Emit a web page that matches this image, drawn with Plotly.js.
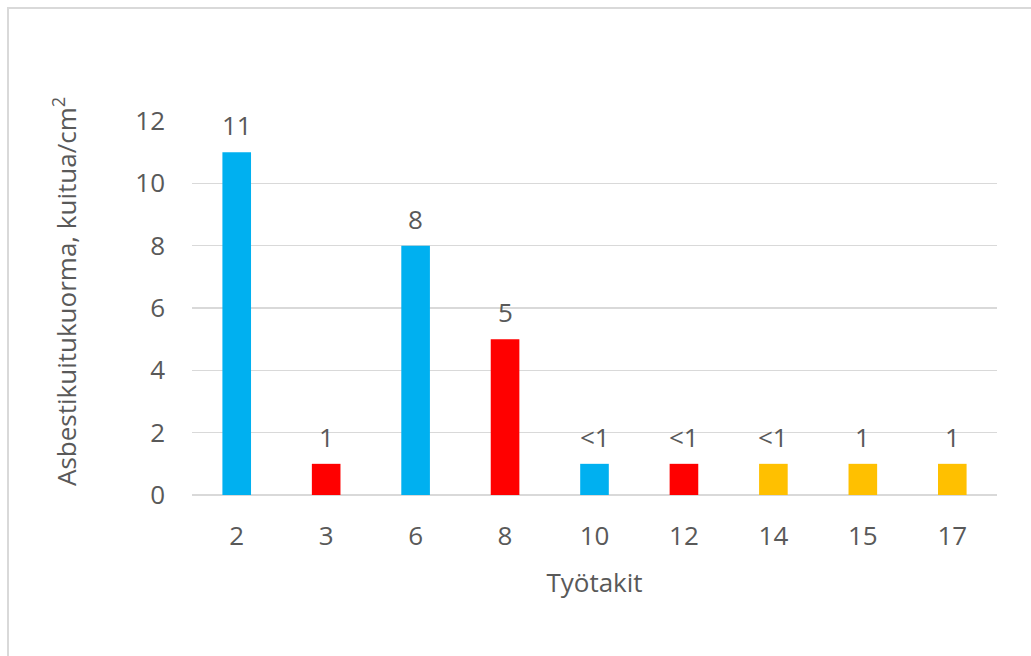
<!DOCTYPE html>
<html>
<head>
<meta charset="utf-8">
<script src="https://cdn.plot.ly/plotly-3.0.1.min.js"></script>
<style>
  html, body { margin: 0; padding: 0; background: #fff; }
  #chart { width: 1031px; height: 656px; }
</style>
</head>
<body>
<div id="chart"></div>
<script>
const categories = ["2", "3", "6", "8", "10", "12", "14", "15", "17"];
const values = [11, 1, 8, 5, 1, 1, 1, 1, 1];
const labels = ["11", "1", "8", "5", "<1", "<1", "<1", "1", "1"];
const barColors = ["#00B0F0", "#FF0000", "#00B0F0", "#FF0000", "#00B0F0", "#FF0000", "#FFC000", "#FFC000", "#FFC000"];
const yTicks = [0, 2, 4, 6, 8, 10, 12];
const xTitle = "Työtakit";
const yTitle = "Asbestikuitukuorma, kuitua/cm<sup>2</sup>";

const FONT = "Open Sans, Noto Sans, sans-serif";
const TXT = "#595959";
const FS = 26;

const trace = {
  type: "bar",
  x: categories,
  y: values,
  marker: { color: barColors },
  hoverinfo: "none"
};

const annotations = categories.map((c, i) => ({
  x: i, y: values[i], xref: "x", yref: "y",
  text: labels[i], showarrow: false,
  yanchor: "middle", yshift: 27,
  font: { family: FONT, size: FS, color: TXT }
}));

annotations.push({
  xref: "paper", yref: "paper",
  x: (65 - 192) / 805, y: (495 - 292) / 374,
  xanchor: "center", yanchor: "middle",
  text: yTitle, textangle: -90, showarrow: false,
  font: { family: FONT, size: FS, color: TXT }
});

const layout = {
  width: 1031, height: 656,
  margin: { l: 192, r: 34, t: 121, b: 161 },
  paper_bgcolor: "#fff", plot_bgcolor: "#fff",
  showlegend: false,
  bargap: 0.68,
  font: { family: FONT, size: FS, color: TXT },
  xaxis: {
    type: "category",
    range: [-0.5, 8.5],
    showgrid: false, zeroline: false,
    showline: false,
    ticks: "", ticklabelstandoff: 23,
    tickfont: { family: FONT, size: FS, color: TXT },
    title: { text: xTitle, standoff: 21, font: { family: FONT, size: FS, color: TXT } }
  },
  yaxis: {
    range: [0, 12],
    tickvals: yTicks,
    showgrid: true, gridcolor: "#D9D9D9", gridwidth: 1.5,
    zeroline: true, zerolinecolor: "#D9D9D9", zerolinewidth: 1.5,
    showline: false, ticks: "", ticklabelstandoff: 26,
    tickfont: { family: FONT, size: FS, color: TXT }
  },
  annotations: annotations,
  shapes: [{
    type: "rect", xref: "paper", yref: "paper",
    x0: (8 - 192) / 805, x1: (1045 - 192) / 805,
    y0: (495 - 670) / 374, y1: (495 - 8) / 374,
    line: { color: "#D9D9D9", width: 2 }, fillcolor: "rgba(0,0,0,0)",
    layer: "below"
  }]
};

Plotly.newPlot("chart", [trace], layout, { displayModeBar: false, staticPlot: true });
</script>
</body>
</html>
